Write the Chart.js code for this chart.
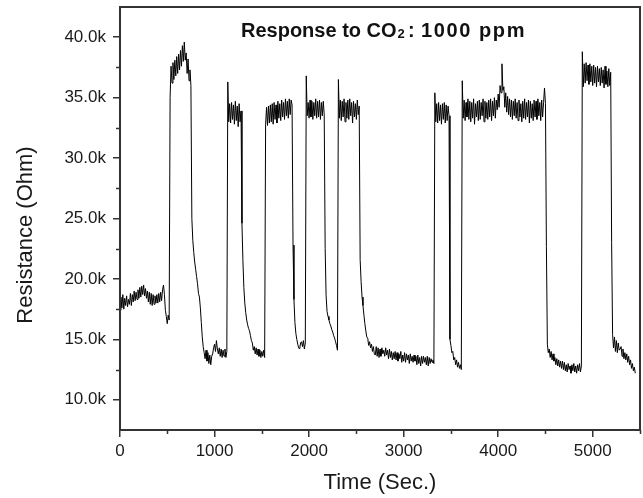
<!DOCTYPE html>
<html>
<head>
<meta charset="utf-8">
<script src="https://cdn.jsdelivr.net/npm/chart.js@4.4.1/dist/chart.umd.min.js"></script>
<style>
  html, body { margin: 0; padding: 0; background: #fff; }
  #wrap { width: 643px; height: 498px; }
</style>
</head>
<body>
<div id="wrap"><canvas id="co2Chart" width="643" height="498"></canvas></div>
<script>
// resistance in kOhm, one reading every 10 s
var sampleStep = 10;

var run0k = [
    17.4, 18.5, 17.6, 18.7, 17.5, 18.4, 17.8, 18.6, 17.7, 18.3,
    17.9, 18.8, 17.8, 18.7, 18.1, 19.0, 18.2, 18.9, 18.3, 19.1,
    18.4, 19.3, 18.5, 19.4, 18.7, 19.5, 18.6, 19.2, 18.4, 19.0,
    18.1, 18.9, 17.9, 18.8, 17.8, 18.7, 17.9, 18.6, 18.0, 18.7,
    18.0, 18.8, 18.1, 18.9, 18.2, 19.1, 19.5, 18.7, 17.4, 16.9,
    16.3, 17.0, 16.6, 35.0, 37.6, 36.2, 37.9, 36.5, 38.1, 36.8,
    38.4, 37.0, 38.6, 37.3, 38.9, 37.6, 39.3, 38.0, 39.6, 38.1,
    38.7, 37.0, 38.2, 36.4, 37.3, 36.0, 25.0, 23.2, 22.2, 21.4,
    20.8, 20.2, 19.6, 18.8, 18.5, 17.6, 16.4, 15.2, 14.4, 13.9,
    13.4, 14.1, 13.2, 13.9, 13.0, 13.7, 12.9, 13.6, 13.8, 14.3
];
var run1k = [
    14.6, 14.0, 14.9, 14.2, 13.8, 14.3, 13.6, 14.2, 13.5, 14.1,
    13.6, 14.2, 13.5, 14.0, 36.3, 33.0, 34.5, 32.9, 34.6, 33.2,
    34.4, 32.8, 34.7, 33.1, 34.3, 32.6, 34.5, 33.0, 33.9, 24.6,
    21.5, 19.3, 18.0, 17.2, 16.6, 16.2, 15.9, 15.7, 15.3, 14.9,
    14.7, 14.1, 14.4, 13.8, 14.3, 13.7, 14.2, 13.6, 14.1, 13.5,
    14.0, 13.6, 14.1, 13.5, 32.8, 34.2, 32.7, 34.3, 32.9, 34.4,
    33.0, 34.5, 32.8, 34.6, 33.2, 34.4, 32.9, 34.7, 33.3, 34.5,
    33.1, 34.8, 33.4, 34.6, 33.2, 34.9, 33.5, 34.7, 33.3, 34.9,
    33.6, 34.8, 34.4, 22.8, 18.3, 16.4, 15.5, 15.0, 14.6, 14.3,
    14.2, 14.7, 14.8, 14.4, 14.9, 14.2, 14.7, 36.8, 33.5, 34.6
];
var run2k = [
    33.3, 34.8, 33.4, 34.7, 33.2, 34.6, 33.5, 34.9, 33.3, 34.7,
    33.4, 34.8, 33.2, 34.6, 33.5, 34.7, 33.6, 22.5, 18.6, 17.3,
    16.9, 16.6, 16.3, 16.1, 15.8, 15.6, 15.3, 15.1, 14.8, 14.5,
    14.1, 36.5, 33.3, 34.8, 33.1, 34.7, 33.4, 34.9, 33.0, 34.6,
    33.3, 34.8, 33.2, 34.9, 33.5, 34.6, 32.9, 34.7, 33.4, 34.5,
    33.2, 34.8, 33.6, 34.3, 21.6, 19.8, 18.5, 17.8, 17.0, 16.3,
    15.7, 15.2, 15.1, 14.5, 14.8, 14.3, 14.6, 14.0, 14.4, 13.8,
    13.7, 14.4, 13.6, 14.3, 13.5, 14.2, 13.6, 14.3, 13.8, 14.1,
    13.6, 14.3, 13.7, 14.1, 13.4, 14.2, 13.5, 14.0, 13.3, 13.9,
    13.4, 14.0, 13.3, 13.9, 13.2, 13.8, 13.4, 14.0, 13.1, 13.7
];
var run3k = [
    13.2, 13.9, 13.1, 13.8, 13.3, 13.7, 13.0, 13.8, 13.2, 13.6,
    13.1, 13.7, 13.2, 13.6, 12.9, 13.7, 13.0, 13.5, 12.8, 13.6,
    13.0, 13.6, 13.1, 13.5, 12.9, 13.6, 12.8, 13.5, 13.0, 13.4,
    13.1, 13.3, 13.0, 35.4, 33.0, 34.5, 32.9, 34.6, 33.1, 34.4,
    32.8, 34.5, 33.2, 34.6, 32.9, 34.4, 33.1, 34.3, 33.5, 15.0,
    14.5, 13.9, 14.0, 13.3, 13.5, 12.9, 13.3, 12.7, 13.1, 12.6,
    12.9, 12.5, 36.4, 33.3, 34.8, 33.1, 34.6, 33.4, 34.9, 33.2,
    34.7, 33.0, 34.6, 33.3, 34.9, 32.8, 34.5, 33.4, 34.7, 33.1,
    34.8, 33.2, 34.6, 33.5, 34.9, 33.0, 34.7, 33.3, 34.6, 33.2,
    34.8, 33.4, 34.9, 33.1, 34.7, 33.5, 35.0, 33.3, 34.8, 34.0
];
var run4k = [
    35.3, 34.2, 36.0, 35.4, 37.8, 35.6, 35.9, 34.2, 35.4, 33.8,
    35.1, 33.6, 34.9, 33.4, 34.8, 33.2, 34.7, 33.5, 34.9, 33.3,
    34.6, 33.1, 34.8, 33.4, 34.5, 33.0, 34.7, 33.3, 34.9, 33.2,
    34.6, 33.4, 34.8, 32.9, 34.7, 33.3, 34.5, 33.1, 34.8, 33.4,
    34.7, 33.2, 34.9, 33.5, 34.6, 33.1, 34.8, 33.4, 34.6, 35.8,
    34.5, 22.7, 14.6, 13.9, 14.2, 13.5, 14.0, 13.3, 13.8, 13.2,
    13.5, 12.9, 13.4, 12.8, 13.3, 12.7, 13.2, 12.6, 13.2, 12.5,
    13.1, 12.4, 12.9, 12.3, 13.0, 12.5, 12.8, 12.2, 12.9, 12.4,
    13.0, 12.3, 12.8, 12.2, 12.9, 12.4, 13.0, 12.3, 12.8, 38.8,
    35.9, 37.8, 36.2, 37.9, 36.4, 37.7, 36.1, 37.8, 36.3, 37.6
];
var run5k = [
    36.0, 37.7, 36.2, 37.5, 35.9, 37.6, 36.3, 37.4, 36.0, 37.5,
    36.2, 37.3, 35.8, 37.6, 36.1, 37.2, 35.9, 37.4, 36.0, 37.1,
    23.0, 15.4, 14.3, 15.2, 14.0, 14.9, 13.9, 14.7, 14.1, 14.2,
    14.4, 13.6, 14.2, 13.4, 13.9, 13.3, 13.8, 13.1, 13.6, 12.9,
    13.3, 12.6, 13.0, 12.4, 12.7, 12.2
];

var xTicks = [0, 1000, 2000, 3000, 4000, 5000];
var xMinorTicks = [500, 1500, 2500, 3500, 4500, 5500];
var yTicks = [10, 15, 20, 25, 30, 35, 40];
var yMinorTicks = [12.5, 17.5, 22.5, 27.5, 32.5, 37.5];

var resistance = run0k.concat(run1k, run2k, run3k, run4k, run5k);
var points = resistance.map(function (r, i) {
    return { x: i * sampleStep, y: r };
});

var fontFamily = '"Liberation Sans", Arial, sans-serif';
Chart.defaults.font.family = fontFamily;
Chart.defaults.color = '#1a1a1a';

var frameAndLabels = {
    id: 'frameAndLabels',
    afterDraw: function (chart) {
        var ctx = chart.ctx;
        var a = chart.chartArea;
        var xs = chart.scales.x, ys = chart.scales.y;
        ctx.save();
        ctx.strokeStyle = '#333';
        ctx.lineWidth = 1.5;
        ctx.beginPath();
        yMinorTicks.forEach(function (v) {
            var py = Math.round(ys.getPixelForValue(v)) + 0.5;
            ctx.moveTo(a.left - 4, py);
            ctx.lineTo(a.left, py);
        });
        xMinorTicks.forEach(function (v) {
            var px = Math.round(xs.getPixelForValue(v)) + 0.5;
            ctx.moveTo(px, a.bottom);
            ctx.lineTo(px, a.bottom + 4);
        });
        ctx.stroke();
        ctx.lineWidth = 2;
        ctx.strokeRect(a.left, a.top, a.right - a.left, a.bottom - a.top);

        // y axis title, sits a little below the middle in the original
        ctx.fillStyle = '#1a1a1a';
        ctx.font = '22px ' + fontFamily;
        ctx.textAlign = 'center';
        ctx.textBaseline = 'alphabetic';
        ctx.save();
        ctx.translate(32, 235);
        ctx.rotate(-Math.PI / 2);
        ctx.fillText('Resistance (Ohm)', 0, 0);
        ctx.restore();

        // in-plot heading with subscript
        ctx.fillStyle = '#111';
        ctx.textAlign = 'left';
        ctx.font = 'bold 20px ' + fontFamily;
        var x0 = 241, base = 37;
        ctx.fillText('Response to CO', x0, base);
        var w = ctx.measureText('Response to CO').width;
        ctx.font = 'bold 13px ' + fontFamily;
        ctx.fillText('2', x0 + w + 1, base + 1);
        ctx.font = 'bold 20px ' + fontFamily;
        ctx.fillText(':', 408, base);
        ctx.letterSpacing = '1.6px';
        ctx.fillText('1000 ppm', 421, base);
        ctx.restore();
    }
};

var ctx = document.getElementById('co2Chart').getContext('2d');
var co2Chart = new Chart(ctx, {
    type: 'line',
    data: {
        datasets: [{
            label: 'Resistance',
            data: points,
            borderColor: '#000',
            borderWidth: 1,
            pointRadius: 0,
            fill: false,
            tension: 0
        }]
    },
    options: {
        responsive: false,
        animation: false,
        layout: { padding: { top: 7, right: 3, left: 0, bottom: 0 } },
        plugins: {
            legend: { display: false },
            tooltip: { enabled: false }
        },
        scales: {
            x: {
                type: 'linear',
                min: 0,
                max: 5500,
                afterBuildTicks: function (scale) {
                    scale.ticks = xTicks.map(function (v) { return { value: v }; });
                },
                afterFit: function (scale) {
                    scale.height = 68;
                    scale.paddingLeft = 0;
                    scale.paddingRight = 0;
                },
                ticks: {
                    font: { size: 17 },
                    padding: 4,
                    maxRotation: 0,
                    callback: function (v) { return String(v); }
                },
                grid: {
                    drawOnChartArea: false,
                    tickLength: 7,
                    color: '#333',
                    lineWidth: 1.5
                },
                border: { display: false },
                title: {
                    display: true,
                    text: 'Time (Sec.)',
                    font: { size: 22 },
                    padding: { top: 0, bottom: 2 }
                }
            },
            y: {
                min: 7.5,
                max: 42.5,
                afterBuildTicks: function (scale) {
                    scale.ticks = yTicks.map(function (v) { return { value: v }; });
                },
                afterFit: function (scale) {
                    scale.width = 120;
                    scale.paddingTop = 0;
                    scale.paddingBottom = 0;
                },
                ticks: {
                    font: { size: 17 },
                    padding: 7,
                    callback: function (v) { return v.toFixed(1) + 'k'; }
                },
                grid: {
                    drawOnChartArea: false,
                    tickLength: 7,
                    color: '#333',
                    lineWidth: 1.5
                },
                border: { display: false }
            }
        }
    },
    plugins: [frameAndLabels]
});
</script>
</body>
</html>
